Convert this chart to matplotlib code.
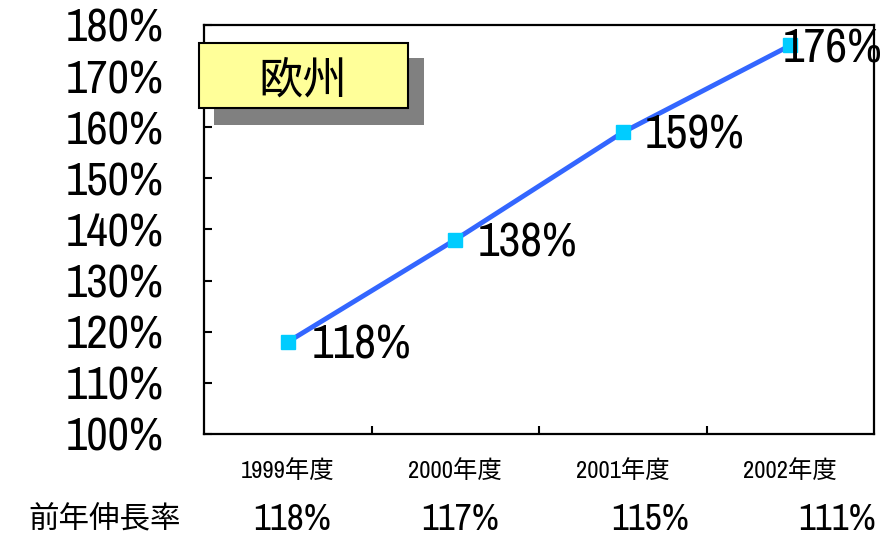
import matplotlib
matplotlib.use("Agg")
import logging
logging.getLogger("matplotlib.font_manager").setLevel(logging.ERROR)
import matplotlib.pyplot as plt
from matplotlib.patches import Rectangle

# ---- data ----
categories = ["1999年度", "2000年度", "2001年度", "2002年度"]
values = [118, 138, 159, 176]
yoy_label = "前年伸長率"
yoy_values = [118, 117, 115, 111]
region_title = "欧州"
y_ticks = [100, 110, 120, 130, 140, 150, 160, 170, 180]

CJK = "Noto Sans CJK JP"
FAM = ["Archivo Narrow", "Liberation Sans", CJK, "DejaVu Sans"]

fig = plt.figure(figsize=(8.84, 5.36), dpi=100)
W, H = 884, 536
ax = fig.add_axes([204 / W, 1 - 434 / H, (874 - 204) / W, (434 - 25) / H])

x = [i + 0.5 for i in range(len(values))]
ax.plot(x, values, color="#3366FF", lw=3.5, zorder=3, solid_capstyle="butt")
ax.plot(x, values, ls="none", marker="s", ms=9.5, color="#00CCFF", zorder=4)

ax.set_xlim(0, len(values))
ax.set_ylim(100, 180)

ax.set_yticks(y_ticks)
ax.set_yticklabels([f"{v}%" for v in y_ticks], family=FAM, fontsize=33)
ax.tick_params(axis="y", direction="in", length=6, width=1.5, pad=29)

ax.set_xticks([1, 2, 3])
ax.set_xticklabels([])
ax.tick_params(axis="x", which="major", direction="in", length=6, width=1.5)
ax.set_xticks(x, minor=True)
ax.set_xticklabels(categories, minor=True, family=FAM, fontsize=16.5)
ax.tick_params(axis="x", which="minor", length=0, pad=18)

for s in ax.spines.values():
    s.set_linewidth(1.6)

# data labels
offsets = [(24, -3), (22, -3), (22, -3), (-8, -4)]
data_texts = []
for xi, v, off in zip(x, values, offsets):
    t = ax.annotate(f"{v}%", (xi, v), xytext=off, textcoords="offset pixels",
                    ha="left", va="center", family=FAM, fontsize=35,
                    annotation_clip=False, zorder=5)
    data_texts.append(t)

# title box with shadow (figure pixel coords)
def frect(x0, y0, x1, y1, **kw):
    r = Rectangle((x0 / W, 1 - y1 / H), (x1 - x0) / W, (y1 - y0) / H,
                  transform=fig.transFigure, **kw)
    fig.add_artist(r)

frect(214, 58, 424, 125, facecolor="#808080", edgecolor="none", zorder=10)
frect(199, 43, 408, 108, facecolor="#FFFF99", edgecolor="black", lw=1.5, zorder=11)
fig.text(303 / W, 1 - 81 / H, region_title, ha="center", va="center",
         family=[CJK], fontsize=32, zorder=12)

# previous-year growth row
fig.text(28 / W, 1 - 520 / H, yoy_label, ha="left", va="center",
         family=[CJK], fontsize=22)
row_x = [292, 460, 650, 837]
row_texts = []
for px, v in zip(row_x, yoy_values):
    row_texts.append(fig.text(px / W, 1 - 519 / H, f"{v}%", ha="center",
                              va="center", family=FAM, fontsize=26.5))

# fit font sizes to the reference text widths (pixels)
fig.canvas.draw()
r = fig.canvas.get_renderer()

def fit(texts, target):
    w = texts[0].get_window_extent(r).width
    f = texts[0].get_fontsize() * target / w
    f = min(f, texts[0].get_fontsize() * 1.25)
    for t in texts:
        t.set_fontsize(f)

fit(ax.get_yticklabels(), 98)
fit(data_texts, 100)
fit(row_texts, 78)
fit(ax.get_xticklabels(minor=True), 93)

fig.savefig("out.png", dpi=100)
